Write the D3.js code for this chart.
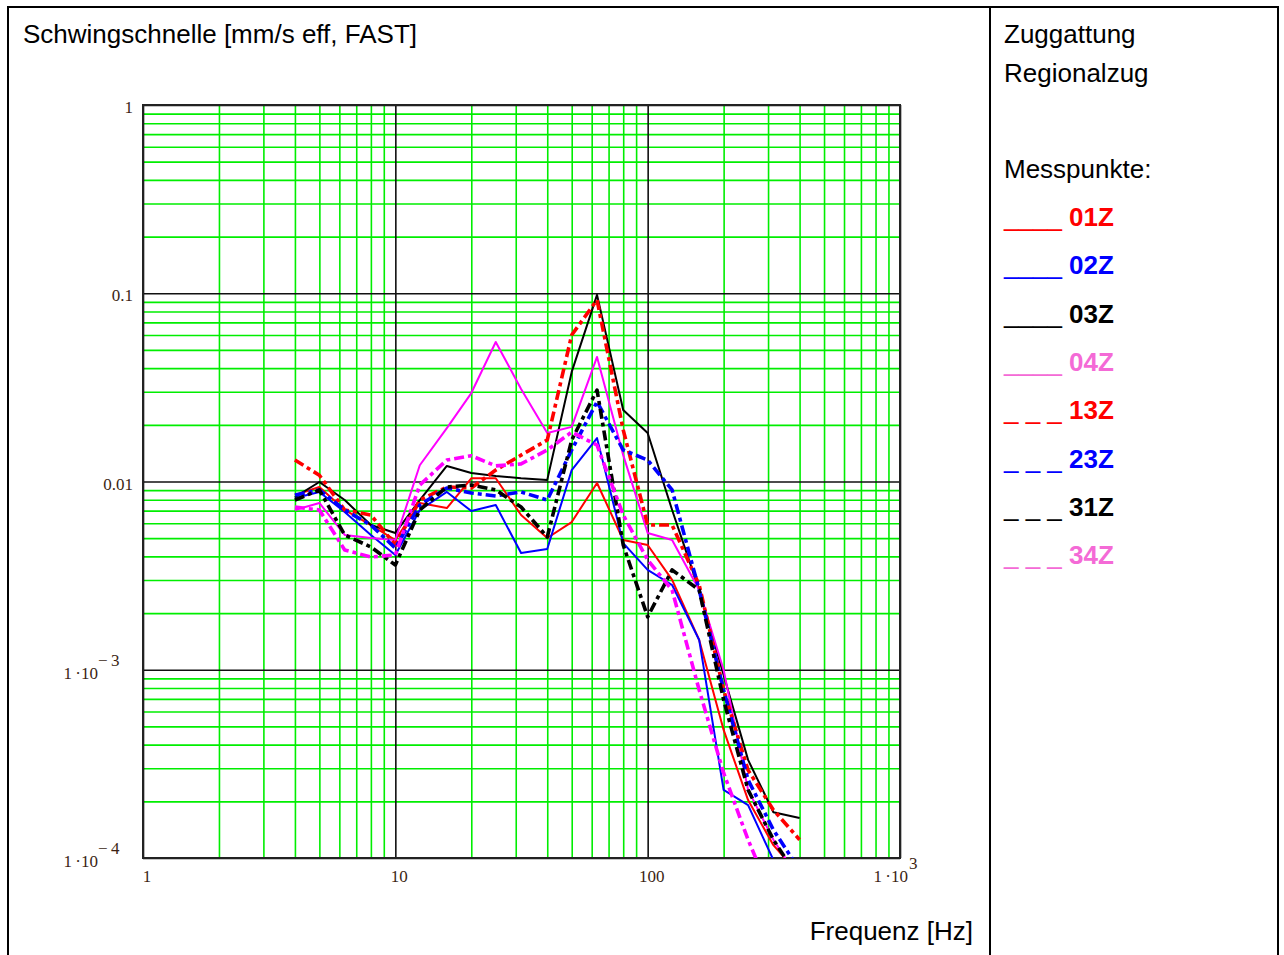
<!DOCTYPE html>
<html>
<head>
<meta charset="utf-8">
<script src="https://cdn.jsdelivr.net/npm/d3@7/dist/d3.min.js"></script>
<style>
  html, body { margin: 0; padding: 0; background: #fff; }
  svg { display: block; }
</style>
</head>
<body>
<svg id="chart" width="1284" height="955"></svg>
<script>
// ---------- data ----------
const freqs = [4, 5, 6.3, 8, 10, 12.5, 16, 20, 25, 31.5, 40, 50, 63, 80, 100, 125, 160, 200, 250, 315, 400];

const s01Z = [0.00848, 0.00935, 0.00706, 0.00587, 0.00489, 0.00769, 0.00723, 0.0104, 0.0104, 0.00664, 0.00501, 0.00609, 0.00982, 0.00489, 0.00460, 0.00300, 0.00144, 0.000479, 0.000203, 0.000117, 0.0000812];
const s02Z = [0.00818, 0.00880, 0.00689, 0.00520, 0.00407, 0.00706, 0.00880, 0.00697, 0.00750, 0.00417, 0.00438, 0.0115, 0.0170, 0.00471, 0.00339, 0.00282, 0.00144, 0.000230, 0.000191, 0.0000976, 0.0000598];
const s03Z = [0.00827, 0.00994, 0.00797, 0.00587, 0.00533, 0.00797, 0.0121, 0.0111, 0.0107, 0.0104, 0.0102, 0.0382, 0.098, 0.0240, 0.0181, 0.00706, 0.00265, 0.000938, 0.000332, 0.000175, 0.000163];
const s04Z = [0.00706, 0.00769, 0.00520, 0.00501, 0.00489, 0.0122, 0.0192, 0.0295, 0.0551, 0.0310, 0.0181, 0.0195, 0.0459, 0.0138, 0.00533, 0.00489, 0.00265, 0.000997, 0.000230, 0.000125, 0.0000764];
const s13Z = [0.0130, 0.0108, 0.00706, 0.00664, 0.00460, 0.00797, 0.00935, 0.00924, 0.0115, 0.0138, 0.0166, 0.0600, 0.0921, 0.0188, 0.00587, 0.00587, 0.00282, 0.000781, 0.000293, 0.000180, 0.000125];
const s23Z = [0.00848, 0.00902, 0.00706, 0.00587, 0.00443, 0.00750, 0.00924, 0.00869, 0.00838, 0.00880, 0.00797, 0.0147, 0.0265, 0.0147, 0.0130, 0.00902, 0.00265, 0.000781, 0.000260, 0.000141, 0.0000864];
const s31Z = [0.00797, 0.00902, 0.00520, 0.00449, 0.00360, 0.00706, 0.00935, 0.00958, 0.00902, 0.00732, 0.00507, 0.0166, 0.0306, 0.00460, 0.00191, 0.00339, 0.00265, 0.000691, 0.000230, 0.000125, 0.0000764];
const s34Z = [0.00732, 0.00706, 0.00433, 0.00397, 0.00407, 0.00958, 0.0130, 0.0137, 0.0121, 0.0124, 0.0147, 0.0183, 0.0156, 0.00664, 0.00383, 0.00265, 0.000781, 0.000283, 0.000125, 0.0000598, 0.000042];

const seriesNames  = ["01Z", "02Z", "03Z", "04Z", "13Z", "23Z", "31Z", "34Z"];
const seriesValues = [s01Z, s02Z, s03Z, s04Z, s13Z, s23Z, s31Z, s34Z];
const seriesDashed = [false, false, false, false, true, true, true, true];
const lineColors   = ["#ff0000", "#0000ff", "#000000", "#ff00ff", "#ff0000", "#0000ff", "#000000", "#ff00ff"];
const legendColors = ["#ff0000", "#0000ff", "#000000", "#f46ad6", "#ff0000", "#0000ff", "#000000", "#f46ad6"];

const yTickValues = [1e-4, 1e-3, 1e-2, 0.1, 1];
const yTickBase   = ["1\u2009\u00b710", "1\u2009\u00b710", "0.01", "0.1", "1"];
const yTickExp    = ["\u2212\u20094", "\u2212\u20093", "", "", ""];
const xTickValues = [1, 10, 100, 1000];
const xTickBase   = ["1", "10", "100", "1\u2009\u00b710"];
const xTickExp    = ["", "", "", "3"];

const titleText  = "Schwingschnelle [mm/s eff, FAST]";
const xAxisTitle = "Frequenz [Hz]";
const infoLines  = ["Zuggattung", "Regionalzug"];
const legendHead = "Messpunkte:";

// ---------- layout ----------
const svg = d3.select("#chart");
const plot = { left: 143, right: 900, top: 105, bottom: 858 };

const x = d3.scaleLog().domain([1, 1000]).range([plot.left, plot.right]);
const y = d3.scaleLog().domain([1e-4, 1]).range([plot.bottom, plot.top]);

// panels
svg.append("rect").attr("x", 8).attr("y", 7).attr("width", 982).attr("height", 970)
  .attr("fill", "none").attr("stroke", "#000").attr("stroke-width", 2);
svg.append("rect").attr("x", 990).attr("y", 7).attr("width", 288).attr("height", 970)
  .attr("fill", "none").attr("stroke", "#000").attr("stroke-width", 2);

// grid values
const minorX = [], minorY = [];
for (let d = 1; d < 1000; d *= 10) for (let k = 2; k <= 9; k++) minorX.push(d * k);
for (let d = 1e-4; d < 0.99; d *= 10) for (let k = 2; k <= 9; k++) minorY.push(d * k);

const W = plot.right - plot.left, H = plot.bottom - plot.top;

// minor green grid
svg.append("g").attr("transform", `translate(0,${plot.bottom})`)
  .call(d3.axisBottom(x).tickValues(minorX).tickSize(-H).tickFormat(""))
  .call(g => g.select(".domain").remove())
  .call(g => g.selectAll("line").attr("stroke", "#00ee00").attr("stroke-width", 1.6));
svg.append("g").attr("transform", `translate(${plot.left},0)`)
  .call(d3.axisLeft(y).tickValues(minorY).tickSize(-W).tickFormat(""))
  .call(g => g.select(".domain").remove())
  .call(g => g.selectAll("line").attr("stroke", "#00ee00").attr("stroke-width", 1.6));

// major black grid
svg.append("g").attr("transform", `translate(0,${plot.bottom})`)
  .call(d3.axisBottom(x).tickValues(xTickValues).tickSize(-H).tickFormat(""))
  .call(g => g.select(".domain").remove())
  .call(g => g.selectAll("line").attr("stroke", "#111").attr("stroke-width", 1.6));
svg.append("g").attr("transform", `translate(${plot.left},0)`)
  .call(d3.axisLeft(y).tickValues(yTickValues).tickSize(-W).tickFormat(""))
  .call(g => g.select(".domain").remove())
  .call(g => g.selectAll("line").attr("stroke", "#111").attr("stroke-width", 1.6));

// plot frame
svg.append("rect").attr("x", plot.left).attr("y", plot.top).attr("width", W).attr("height", H)
  .attr("fill", "none").attr("stroke", "#222").attr("stroke-width", 2);

// clip
svg.append("clipPath").attr("id", "clip").append("rect")
  .attr("x", plot.left).attr("y", plot.top).attr("width", W).attr("height", H);

const line = d3.line().x(d => x(d[0])).y(d => y(d[1]));
const gLines = svg.append("g").attr("clip-path", "url(#clip)");
seriesValues.forEach((vals, i) => {
  const pts = freqs.map((f, j) => [f, vals[j]]);
  gLines.append("path").datum(pts)
    .attr("d", line)
    .attr("fill", "none")
    .attr("stroke", lineColors[i])
    .attr("stroke-width", seriesDashed[i] ? 3.6 : 2)
    .attr("stroke-linejoin", "round")
    .attr("stroke-dasharray", seriesDashed[i] ? "10,4,4,4" : null);
});

// tick labels
const tickFont = "'Liberation Serif', 'DejaVu Serif', serif";
const tickColor = "#3b1f14";
yTickValues.forEach((v, i) => {
  const hasExp = yTickExp[i] !== "";
  const t = svg.append("text")
    .attr("x", hasExp ? 98 : 133)
    .attr("y", y(v) + (hasExp ? 9 : 8))
    .attr("text-anchor", "end")
    .attr("font-family", tickFont).attr("font-size", 17).attr("fill", tickColor)
    .text(yTickBase[i]);
  if (hasExp) {
    svg.append("text")
      .attr("x", 98).attr("y", y(v) - 4)
      .attr("font-family", tickFont).attr("font-size", 17).attr("fill", tickColor)
      .text(yTickExp[i]);
  }
});
xTickValues.forEach((v, i) => {
  const hasExp = xTickExp[i] !== "";
  svg.append("text")
    .attr("x", hasExp ? x(v) + 8 : x(v) + 4)
    .attr("y", plot.bottom + 24)
    .attr("text-anchor", hasExp ? "end" : "middle")
    .attr("font-family", tickFont).attr("font-size", 17).attr("fill", tickColor)
    .text(xTickBase[i]);
  if (hasExp) {
    svg.append("text")
      .attr("x", x(v) + 9).attr("y", plot.bottom + 11)
      .attr("font-family", tickFont).attr("font-size", 17).attr("fill", tickColor)
      .text(xTickExp[i]);
  }
});

// titles
const sans = "'Liberation Sans', Arial, sans-serif";
svg.append("text").attr("x", 23).attr("y", 43)
  .attr("font-family", sans).attr("font-size", 26).attr("fill", "#000").text(titleText);
svg.append("text").attr("x", 973).attr("y", 940).attr("text-anchor", "end")
  .attr("font-family", sans).attr("font-size", 26).attr("fill", "#000").text(xAxisTitle);

// right panel
infoLines.forEach((s, i) => {
  svg.append("text").attr("x", 1004).attr("y", 43 + i * 39)
    .attr("font-family", sans).attr("font-size", 26).attr("fill", "#000").text(s);
});
svg.append("text").attr("x", 1004).attr("y", 178)
  .attr("font-family", sans).attr("font-size", 26).attr("fill", "#000").text(legendHead);

seriesNames.forEach((name, i) => {
  const t = svg.append("text").attr("x", 1004).attr("y", 226 + i * 48.3)
    .attr("font-family", sans).attr("font-size", 26).attr("fill", legendColors[i]);
  t.append("tspan").text(seriesDashed[i] ? "_ _ _" : "____");
  t.append("tspan").attr("font-weight", "bold").text("\u00a0" + name);
});
</script>
</body>
</html>
